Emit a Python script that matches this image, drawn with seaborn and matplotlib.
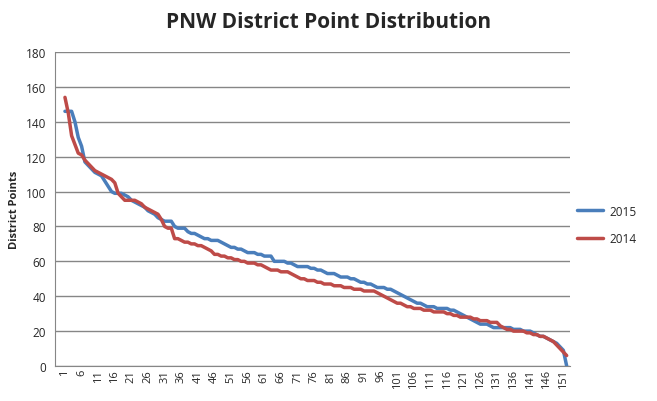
import matplotlib
matplotlib.use("Agg")
import matplotlib.pyplot as plt
import seaborn as sns
import pandas as pd

y2015 = [146,146,146,140,131,126,117,115,113,111,110,109,106,103,100,99,99,99,98,97,
         95,94,93,92,91,89,88,87,85,84,83,83,83,80,79,79,79,77,76,76,
         75,74,73,73,72,72,72,71,70,69,68,68,67,67,66,65,65,65,64,64,
         63,63,63,60,60,60,60,59,59,58,57,57,57,57,56,56,55,55,54,53,
         53,53,52,51,51,51,50,50,49,48,48,47,47,46,45,45,45,44,44,43,
         42,41,40,39,38,37,36,36,35,34,34,34,33,33,33,33,32,32,31,30,
         29,28,27,26,25,24,24,24,23,22,22,22,22,22,22,21,21,21,20,20,
         20,19,18,17,17,16,15,14,13,11,9,0]
y2014 = [154,145,132,127,122,121,118,116,114,112,111,110,109,108,107,105,99,97,95,95,
         95,95,94,93,91,90,89,88,87,84,80,79,79,73,73,72,71,71,70,70,
         69,69,68,67,66,64,64,63,63,62,62,61,61,60,60,59,59,59,58,58,
         57,56,55,55,55,54,54,54,53,52,51,50,50,49,49,49,48,48,47,47,
         47,46,46,46,45,45,45,44,44,44,43,43,43,43,42,41,40,39,38,37,
         36,36,35,34,34,33,33,33,32,32,32,31,31,31,31,30,30,29,29,28,
         28,28,28,27,27,26,26,26,25,25,25,23,22,21,21,20,20,20,20,19,
         19,18,18,17,17,16,15,14,12,10,8,6]
series = ["2015", "2014"]

df = pd.concat([
    pd.DataFrame({"x": range(1, len(y2015) + 1), "y": y2015, "s": "2015"}),
    pd.DataFrame({"x": range(1, len(y2014) + 1), "y": y2014, "s": "2014"}),
])

sns.set_style("white")
plt.rcParams['font.family'] = ['Open Sans', 'DejaVu Sans']
fig = plt.figure(figsize=(6.57, 4.02), dpi=100)
ax = fig.add_axes([55/657, 35/402, 515/657, 314/402])
sns.lineplot(data=df, x="x", y="y", hue="s", hue_order=series,
             palette={"2015": "#4a7ebb", "2014": "#be4b48"}, linewidth=2.5, ax=ax)
ax.set_xlim(-2, 153)
ax.set_ylim(0, 180)
ax.set_yticks(range(0, 181, 20))
ax.set_xticks(range(1, 153, 5))
ax.tick_params(axis='x', rotation=90, labelsize=8, length=0, pad=2)
ax.tick_params(axis='y', labelsize=8.5, length=3, color='#868686')
ax.yaxis.grid(True, color='#868686', linewidth=1)
for s in ['top', 'right']:
    ax.spines[s].set_visible(False)
for s in ['left', 'bottom']:
    ax.spines[s].set_color('#868686')
ax.set_xlabel("")
ax.set_ylabel("District Points", fontsize=8, fontweight='bold')
ax.legend(loc='center left', bbox_to_anchor=(1.0, 0.45), frameon=False,
          fontsize=8.5, handlelength=2.2, handletextpad=0.5, labelspacing=1.2,
          borderaxespad=0.2)
fig.text(0.5, 0.945, "PNW District Point Distribution", ha='center', va='center',
         fontsize=15, fontweight='bold')
fig.savefig("out.png", dpi=100)
